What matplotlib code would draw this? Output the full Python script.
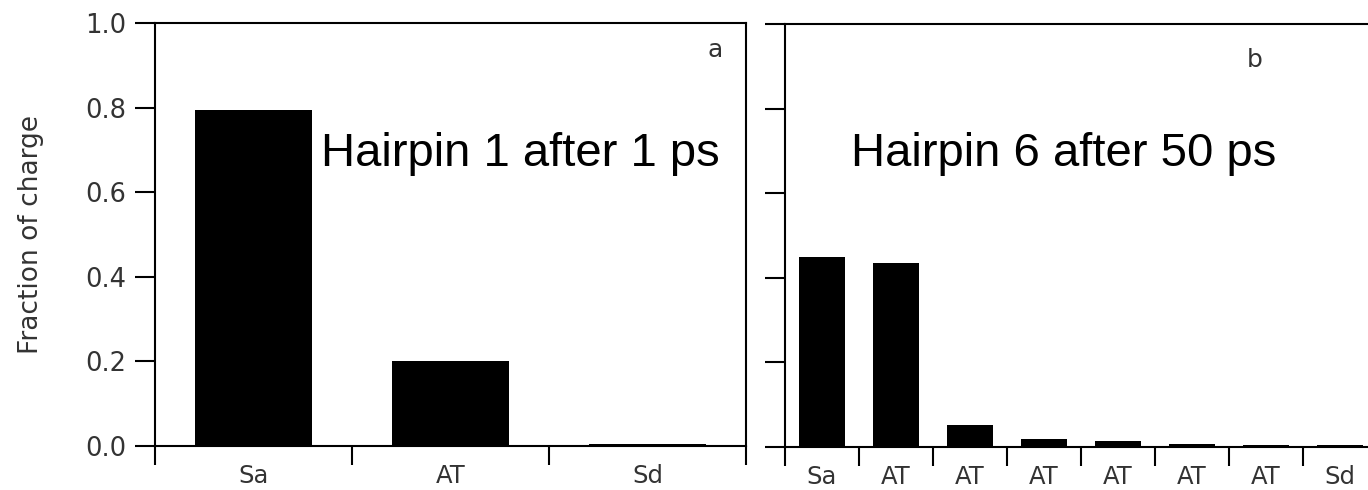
import matplotlib
matplotlib.use("Agg")
import matplotlib.pyplot as plt
from matplotlib.ticker import FixedLocator

# Charge distribution data
cats_a = ["Sa", "AT", "Sd"]
vals_a = [0.795, 0.200, 0.004]

cats_b = ["Sa", "AT", "AT", "AT", "AT", "AT", "AT", "Sd"]
vals_b = [0.449, 0.435, 0.051, 0.018, 0.014, 0.008, 0.005, 0.004]

yticks = [0.0, 0.2, 0.4, 0.6, 0.8, 1.0]
ytick_labels = ["0.0", "0.2", "0.4", "0.6", "0.8", "1.0"]

title_a = "Hairpin 1 after 1 ps"
title_b = "Hairpin 6 after 50 ps"
ylabel = "Fraction of charge"

W, H = 1368, 490
fig = plt.figure(figsize=(W / 100, H / 100), dpi=100)

label_font = "DejaVu Sans"
label_color = "#333333"
lw = 1.5


def style_axes(ax, n, xmax):
    ax.set_xlim(-0.5, xmax)
    ax.set_ylim(0, 1.0)
    ax.xaxis.set_major_locator(FixedLocator([i - 0.5 for i in range(n + 1)]))
    ax.xaxis.set_minor_locator(FixedLocator(list(range(n))))
    ax.tick_params(axis="x", which="major", direction="out", length=14, width=lw,
                   labelbottom=False, color="black")
    ax.tick_params(axis="x", which="minor", length=0, pad=13,
                   labelsize=17.5, labelcolor=label_color)
    ax.set_yticks(yticks)
    ax.tick_params(axis="y", which="major", direction="out", length=14.5, width=lw,
                   color="black", pad=6, labelsize=18.5, labelcolor=label_color)
    for s in ax.spines.values():
        s.set_linewidth(lw)
        s.set_color("black")
    for lab in ax.get_xticklabels(minor=True) + ax.get_yticklabels():
        lab.set_fontfamily(label_font)


# Panel a
ax1 = fig.add_axes([155 / W, 1 - 446 / H, (746 - 155) / W, (446 - 23) / H])
ax1.bar(range(len(vals_a)), vals_a, width=0.59, color="black")
style_axes(ax1, len(cats_a), 2.5)
ax1.set_xticks(range(len(cats_a)), cats_a, minor=True)
ax1.set_yticklabels(ytick_labels)
ax1.set_ylabel(ylabel, fontsize=19, color=label_color, family=label_font, labelpad=30)
ax1.text(0.948, 0.936, "a", transform=ax1.transAxes, fontsize=18,
         color=label_color, family=label_font, ha="center", va="center")
ax1.text(0.618, 0.662, title_a, transform=ax1.transAxes, fontsize=34,
         family="Liberation Sans", ha="center", va="baseline")

# Panel b
ax2 = fig.add_axes([785 / W, 1 - 447 / H, (W - 785) / W, (447 - 24) / H])
ax2.bar(range(len(vals_b)), vals_b, width=0.61, color="black")
style_axes(ax2, len(cats_b), (W - 785) / 74 - 0.5)
ax2.set_xticks(range(len(cats_b)), cats_b, minor=True)
ax2.tick_params(axis="y", labelleft=False)
ax2.spines["right"].set_visible(False)
ax2.text(0.806, 0.915, "b", transform=ax2.transAxes, fontsize=18,
         color=label_color, family=label_font, ha="center", va="center")
ax2.text(0.478, 0.664, title_b, transform=ax2.transAxes, fontsize=34,
         family="Liberation Sans", ha="center", va="baseline")

fig.savefig("out.png", dpi=100, facecolor="white")
